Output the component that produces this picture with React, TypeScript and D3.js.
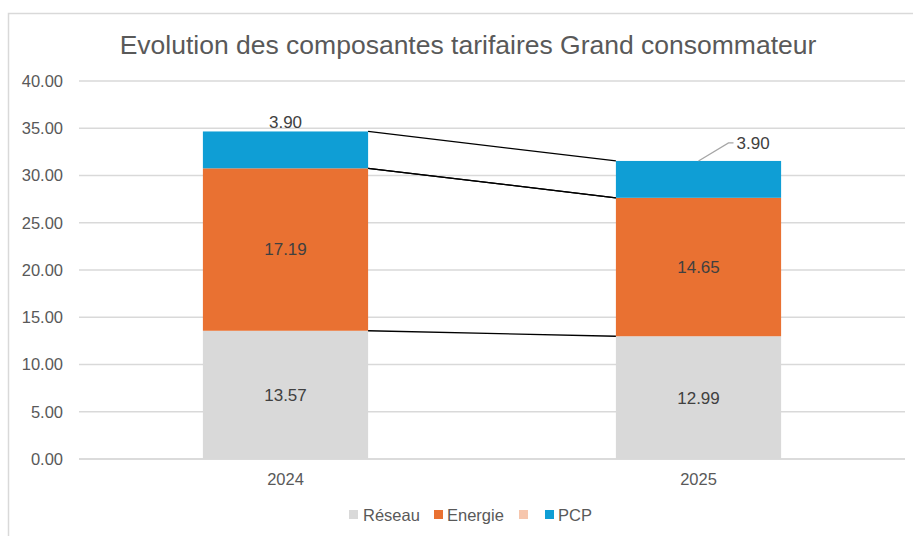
import React from 'react';
import * as d3 from 'd3';

const years = ['2024', '2025'];
const reseau = [13.57, 12.99];
const energie = [17.19, 14.65];
const autre = [0, 0];
const pcp = [3.9, 3.9];
const yTicks = [0, 5, 10, 15, 20, 25, 30, 35, 40];

const seriesNames = ['Réseau', 'Energie', '', 'PCP'];
const seriesColors = ['#D9D9D9', '#E97132', '#F6C6AD', '#0F9ED5'];

const W = 913;
const H = 536;
const margin = { top: 81, right: 8, bottom: 77, left: 79 };
const FONT = '"Liberation Sans", Arial, sans-serif';

const App: React.FC = () => {
  const rows = years.map((y, i) => ({ year: y, s0: reseau[i], s1: energie[i], s2: autre[i], s3: pcp[i] }));
  const stacked = d3.stack<any>().keys(['s0', 's1', 's2', 's3'])(rows);

  const x = d3.scaleBand().domain(years).range([margin.left, W - margin.right]).paddingInner(0.6).paddingOuter(0.3);
  const y = d3.scaleLinear().domain([0, 40]).range([H - margin.bottom, margin.top]);
  const bw = x.bandwidth();

  return (
    <svg width={W} height={H} style={{ position: 'absolute', left: 0, top: 0, fontFamily: FONT }}>
      <rect x={0} y={0} width={W} height={H} fill="#fff" />
      {/* outer chart border */}
      <rect x={8.5} y={13.5} width={W + 10} height={H + 10} fill="none" stroke="#d9d9d9" strokeWidth={1.5} />

      <text x={468} y={54} textAnchor="middle" fontSize={26.5} fill="#595959">
        Evolution des composantes tarifaires Grand consommateur
      </text>

      {/* gridlines and y labels */}
      {yTicks.map(t => (
        <g key={t}>
          <line x1={margin.left} x2={W - margin.right} y1={y(t)} y2={y(t)} stroke="#d9d9d9" strokeWidth={1.5} />
          <text x={63} y={y(t)} dy="0.35em" textAnchor="end" fontSize={16.5} fill="#595959">
            {t.toFixed(2)}
          </text>
        </g>
      ))}

      {/* stacked bars */}
      {stacked.map((layer, si) => (
        <g key={si} fill={seriesColors[si]}>
          {layer.map((d, i) => (
            <rect key={i} x={x(years[i])!} width={bw} y={y(d[1])} height={Math.max(0, y(d[0]) - y(d[1]))} />
          ))}
        </g>
      ))}

      {/* series lines */}
      {stacked.map((layer, si) => (
        <line
          key={'sl' + si}
          x1={x(years[0])! + bw}
          y1={y(layer[0][1])}
          x2={x(years[1])!}
          y2={y(layer[1][1])}
          stroke="#000"
          strokeWidth={1.3}
        />
      ))}

      {/* data labels */}
      {[0, 1].map(si =>
        stacked[si].map((d, i) => (
          <text key={`l${si}${i}`} x={x(years[i])! + bw / 2} y={(y(d[0]) + y(d[1])) / 2} dy="0.35em" textAnchor="middle" fontSize={17} fill="#404040">
            {(d[1] - d[0]).toFixed(2)}
          </text>
        ))
      )}
      {(() => {
        const d0 = stacked[3][0];
        const d1 = stacked[3][1];
        const cx1 = x(years[1])! + bw / 2;
        const top1 = y(d1[1]);
        return (
          <g>
            <text x={x(years[0])! + bw / 2} y={y(d0[1]) - 9} dy="0.35em" textAnchor="middle" fontSize={17} fill="#404040">
              {(d0[1] - d0[0]).toFixed(2)}
            </text>
            <polyline
              points={`${cx1},${top1} ${cx1 + 30},${top1 - 18} ${cx1 + 35},${top1 - 18}`}
              fill="none"
              stroke="#a6a6a6"
              strokeWidth={1.3}
            />
            <text x={cx1 + 38} y={top1 - 18} dy="0.35em" textAnchor="start" fontSize={17} fill="#404040">
              {(d1[1] - d1[0]).toFixed(2)}
            </text>
          </g>
        );
      })()}

      {/* x axis */}
      <line x1={margin.left} x2={W - margin.right} y1={y(0)} y2={y(0)} stroke="#d9d9d9" strokeWidth={1.5} />
      {years.map(yr => (
        <text key={yr} x={x(yr)! + bw / 2} y={479} dy="0.35em" textAnchor="middle" fontSize={16.5} fill="#595959">
          {yr}
        </text>
      ))}

      {/* legend */}
      {[
        { mx: 349, tx: 363 },
        { mx: 434, tx: 447 },
        { mx: 519, tx: 531 },
        { mx: 545, tx: 558 },
      ].map((p, i) => (
        <g key={'lg' + i}>
          <rect x={p.mx} y={510} width={9} height={9} fill={seriesColors[i]} />
          <text x={p.tx} y={515} dy="0.35em" fontSize={16.5} fill="#595959">
            {seriesNames[i]}
          </text>
        </g>
      ))}
    </svg>
  );
};

export default App;
